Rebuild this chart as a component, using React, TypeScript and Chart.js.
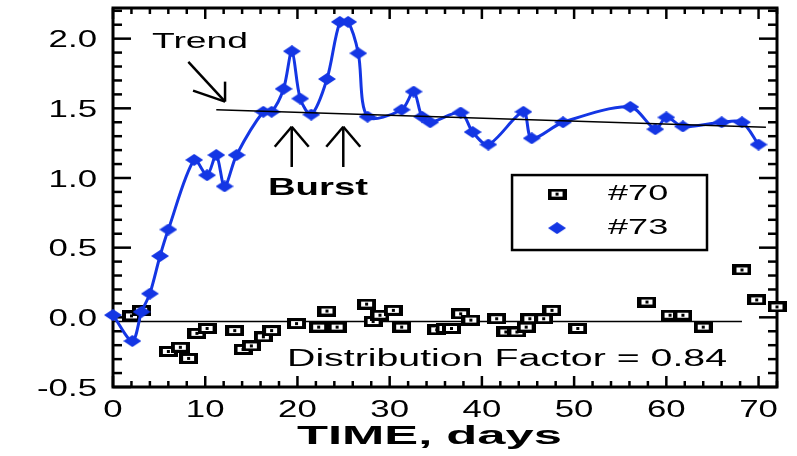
import React, { useEffect, useRef } from 'react';
import { Chart, registerables } from 'chart.js';
Chart.register(...registerables);

// ---------- data ----------
const series70Label = '#70';
const series70Days = [2.0, 3.1, 6.0, 7.3, 8.2, 9.1, 10.2, 13.2, 14.1, 15.0, 16.3, 17.2, 19.9, 22.3, 23.2, 24.3, 27.5, 28.2, 28.95, 30.4, 31.3, 35.1, 36.0, 36.7, 37.7, 38.8, 41.6, 42.6, 43.8, 44.8, 45.2, 46.7, 47.6, 50.4, 57.9, 60.4, 61.8, 64.0, 68.2, 69.8, 72.0];
const series70Values = [0.01, 0.05, -0.245, -0.215, -0.295, -0.115, -0.08, -0.095, -0.23, -0.205, -0.14, -0.095, -0.045, -0.07, 0.045, -0.07, 0.095, -0.03, 0.015, 0.05, -0.07, -0.09, -0.08, -0.08, 0.025, -0.02, -0.01, -0.105, -0.105, -0.07, -0.01, -0.01, 0.05, -0.08, 0.11, 0.015, 0.015, -0.07, 0.34, 0.125, 0.075];

const series73Label = '#73';
const series73Days = [0, 2.1, 3.1, 4.0, 5.1, 6.0, 8.8, 10.2, 11.2, 12.1, 13.4, 16.3, 17.2, 18.5, 19.4, 20.3, 21.5, 23.2, 24.6, 25.5, 26.6, 27.6, 31.3, 32.6, 33.5, 34.4, 37.7, 39.0, 40.7, 44.5, 45.4, 48.8, 56.1, 58.8, 60.0, 61.8, 66.0, 68.2, 70.0];
const series73Values = [0.016, -0.17, 0.04, 0.17, 0.44, 0.63, 1.13, 1.02, 1.165, 0.94, 1.165, 1.475, 1.475, 1.64, 1.91, 1.57, 1.455, 1.71, 2.12, 2.12, 1.895, 1.44, 1.49, 1.62, 1.44, 1.40, 1.47, 1.33, 1.24, 1.475, 1.285, 1.40, 1.51, 1.35, 1.435, 1.37, 1.40, 1.40, 1.24];

const trendDays = [11.2, 70.8];
const trendValues = [1.49, 1.364];
const baselineDays = [0, 68.2];
const baselineValues = [-0.03, -0.03];

const xTickLabels = ['0', '10', '20', '30', '40', '50', '60', '70'];
const yTickLabels = ['-0.5', '0.0', '0.5', '1.0', '1.5', '2.0'];
const xAxisTitle = 'TIME, days';
const trendText = 'Trend';
const burstText = 'Burst';
const burstDays = [19.38, 24.97];
const distributionText = 'Distribution Factor = 0.84';

const X_MIN = 0;
const X_MAX = 72;
const Y_MIN = -0.5;
const Y_MAX = 2.22;

// ---------- styles ----------
const BLUE = '#1436e4';
const FONT = '"Liberation Sans", Arial, Helvetica, sans-serif';

function drawStretched(ctx: CanvasRenderingContext2D, text: string, x: number, y: number, font: string, sx: number, align: 'left' | 'center' | 'right') {
  ctx.save();
  ctx.font = font;
  ctx.textBaseline = 'middle';
  ctx.textAlign = 'left';
  const w = ctx.measureText(text).width * sx;
  let left = x;
  if (align === 'center') left = x - w / 2;
  else if (align === 'right') left = x - w;
  ctx.translate(left, y);
  ctx.scale(sx, 1);
  ctx.fillStyle = '#000';
  ctx.fillText(text, 0, 0);
  ctx.restore();
}

function drawFit(ctx: CanvasRenderingContext2D, text: string, left: number, right: number, y: number, font: string) {
  ctx.save();
  ctx.font = font;
  const sx = (right - left) / ctx.measureText(text).width;
  ctx.restore();
  drawStretched(ctx, text, left, y, font, sx, 'left');
}

function seg(ctx: CanvasRenderingContext2D, x1: number, y1: number, x2: number, y2: number) {
  ctx.beginPath();
  ctx.moveTo(x1, y1);
  ctx.lineTo(x2, y2);
  ctx.stroke();
}

function makeSquare(): HTMLCanvasElement {
  const c = document.createElement('canvas');
  c.width = 19;
  c.height = 11;
  const g = c.getContext('2d')!;
  g.fillStyle = '#000';
  g.fillRect(0, 0, 19, 11);
  g.fillStyle = '#fff';
  g.fillRect(4, 3, 11, 5);
  g.fillStyle = '#000';
  g.fillRect(8, 4, 3, 3);
  return c;
}

function makeDiamond(): HTMLCanvasElement {
  const c = document.createElement('canvas');
  c.width = 18;
  c.height = 12;
  const g = c.getContext('2d')!;
  g.fillStyle = BLUE;
  g.beginPath();
  g.moveTo(9, 0);
  g.lineTo(18, 6);
  g.lineTo(9, 12);
  g.lineTo(0, 6);
  g.closePath();
  g.fill();
  return c;
}

export default function App() {
  const ref = useRef<HTMLCanvasElement | null>(null);

  useEffect(() => {
    const canvas = ref.current;
    if (!canvas) return;
    const square = makeSquare();
    const diamond = makeDiamond();

    const framePlugin = {
      id: 'frame',
      beforeDatasetsDraw(chart: any) {
        const { ctx, chartArea: a, scales } = chart;
        const x = scales.x;
        const y = scales.y;
        ctx.save();
        ctx.strokeStyle = '#000';
        ctx.lineWidth = 3;
        ctx.strokeRect(a.left, a.top, a.right - a.left, a.bottom - a.top);
        ctx.lineWidth = 2.5;
        for (let v = X_MIN; v <= X_MAX; v += 2) {
          const p = x.getPixelForValue(v);
          const len = v % 10 === 0 ? 11 : 6;
          seg(ctx, p, a.bottom, p, a.bottom - len);
          seg(ctx, p, a.top, p, a.top + len);
        }
        for (let i = -5; i <= 22; i++) {
          const p = y.getPixelForValue(i / 10);
          const len = i % 5 === 0 ? 18 : 9;
          seg(ctx, a.left, p, a.left + len, p);
          seg(ctx, a.right, p, a.right - len, p);
        }
        ctx.restore();

        // tick labels
        const tickFont = `24px ${FONT}`;
        xTickLabels.forEach((t) => {
          drawStretched(ctx, t, x.getPixelForValue(Number(t)), a.bottom + 23, tickFont, 1.45, 'center');
        });
        yTickLabels.forEach((t) => {
          drawStretched(ctx, t, a.left - 16, y.getPixelForValue(Number(t)) + 2, tickFont, 1.45, 'right');
        });
        // axis title
        drawFit(ctx, xAxisTitle, 297, 562, 437, `bold 26px ${FONT}`);

        // annotations
        const px = (v: number) => x.getPixelForValue(v);
        const py = (v: number) => y.getPixelForValue(v);
        drawFit(ctx, trendText, px(4.23), px(4.23) + 96, py(1.976), `22px ${FONT}`);
        drawFit(ctx, burstText, px(16.8), px(16.8) + 100, py(0.928), `bold 24px ${FONT}`);
        drawFit(ctx, distributionText, px(18.87), px(18.87) + 440, py(-0.306), `23px ${FONT}`);

        ctx.save();
        ctx.strokeStyle = '#000';
        ctx.lineWidth = 2.5;
        // trend arrow
        const tx = px(12.15);
        const ty = py(1.548);
        seg(ctx, px(8.17), py(1.834), tx, ty);
        seg(ctx, tx, ty, tx, ty - 20);
        seg(ctx, tx, ty, tx - 32, ty - 11);
        // burst arrows
        burstDays.forEach((d) => {
          const bx = px(d);
          const by = py(1.368);
          seg(ctx, bx, by, bx, py(1.079));
          seg(ctx, bx, by, bx - 17, by + 20);
          seg(ctx, bx, by, bx + 17, by + 20);
        });
        ctx.restore();
      },
      afterDraw(chart: any) {
        const { ctx, scales } = chart;
        const x = scales.x;
        const y = scales.y;
        const left = x.getPixelForValue(43.27);
        const right = x.getPixelForValue(64.41);
        const top = y.getPixelForValue(1.021);
        const bottom = y.getPixelForValue(0.483);
        ctx.save();
        ctx.fillStyle = '#fff';
        ctx.fillRect(left, top, right - left, bottom - top);
        ctx.strokeStyle = '#000';
        ctx.lineWidth = 2.5;
        ctx.strokeRect(left, top, right - left, bottom - top);
        ctx.restore();
        const items = [
          { label: series70Label, img: square, y: top + 19 },
          { label: series73Label, img: diamond, y: top + 53 },
        ];
        items.forEach((it) => {
          ctx.drawImage(it.img, left + 45 - it.img.width / 2, it.y - it.img.height / 2);
          drawStretched(ctx, it.label, left + 96, it.y, `22px ${FONT}`, 1.64, 'left');
        });
      },
    };

    const chart = new Chart(canvas, {
      type: 'scatter',
      data: {
        datasets: [
          {
            label: 'Trend',
            data: trendDays.map((d, i) => ({ x: d, y: trendValues[i] })),
            showLine: true,
            borderColor: '#000',
            borderWidth: 1.6,
            pointRadius: 0,
            order: 0,
          },
          {
            label: series73Label,
            data: series73Days.map((d, i) => ({ x: d, y: series73Values[i] })),
            showLine: true,
            borderColor: BLUE,
            backgroundColor: BLUE,
            borderWidth: 3,
            tension: 0.3,
            pointStyle: diamond as any,
            pointRadius: 8,
            clip: false as any,
            order: 1,
          },
          {
            label: series70Label,
            data: series70Days.map((d, i) => ({ x: d, y: series70Values[i] })),
            showLine: false,
            pointStyle: square as any,
            pointRadius: 8,
            clip: false as any,
            order: 2,
          },
          {
            label: 'Baseline',
            data: baselineDays.map((d, i) => ({ x: d, y: baselineValues[i] })),
            showLine: true,
            borderColor: '#000',
            borderWidth: 1.6,
            pointRadius: 0,
            order: 3,
          },
        ],
      },
      options: {
        animation: false,
        responsive: false,
        events: [],
        layout: { padding: { left: 0, right: 20, top: 8, bottom: 0 }, autoPadding: false },
        plugins: { legend: { display: false }, tooltip: { enabled: false } },
        scales: {
          x: {
            type: 'linear',
            min: X_MIN,
            max: X_MAX,
            grid: { display: false },
            border: { display: false },
            ticks: { display: false },
            afterFit: (s: any) => {
              s.height = 69;
            },
          },
          y: {
            type: 'linear',
            min: Y_MIN,
            max: Y_MAX,
            grid: { display: false },
            border: { display: false },
            ticks: { display: false },
            afterFit: (s: any) => {
              s.width = 113;
            },
          },
        },
      } as any,
      plugins: [framePlugin],
    });

    return () => {
      chart.destroy();
    };
  }, []);

  return (
    <div style={{ position: 'fixed', left: 0, top: 0, width: 797, height: 456, background: '#fff' }}>
      <canvas ref={ref} width={797} height={456} style={{ width: 797, height: 456 }} />
    </div>
  );
}
